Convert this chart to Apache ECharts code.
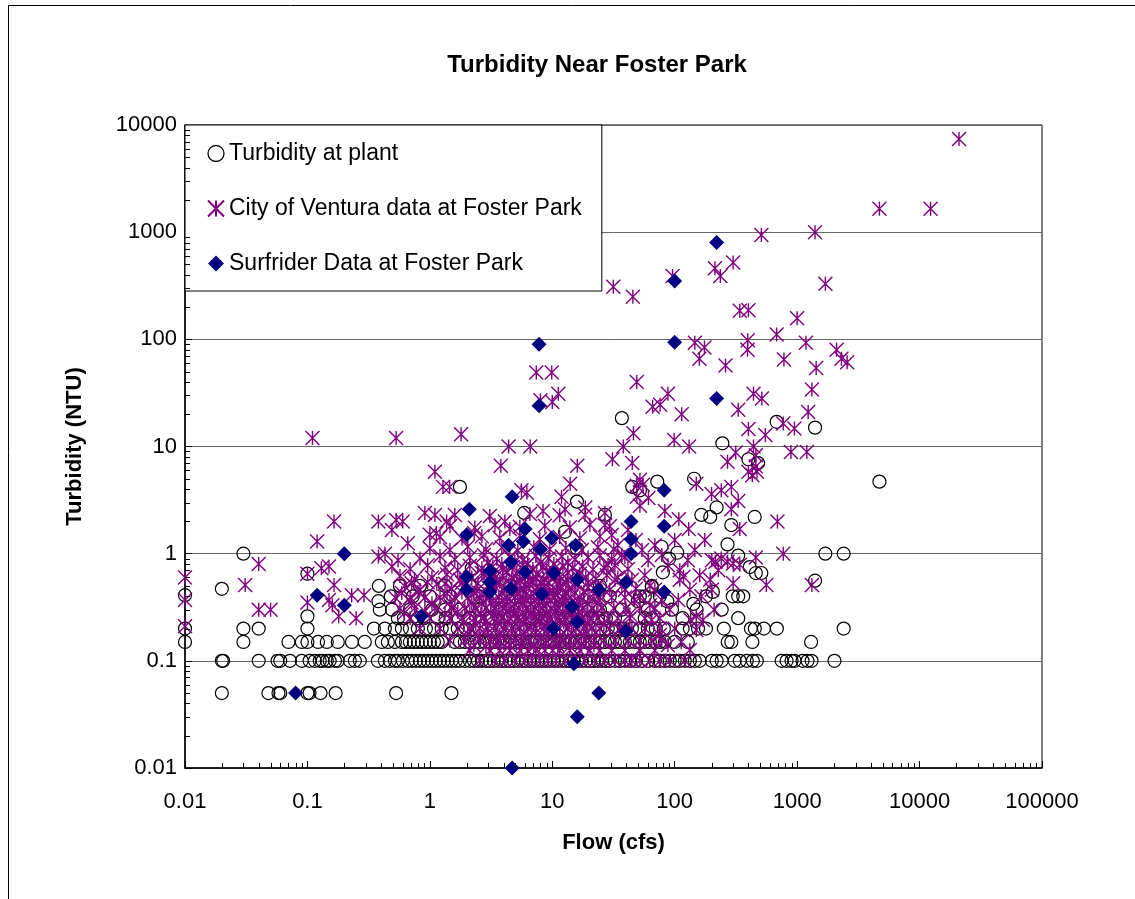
<!DOCTYPE html>
<html>
<head>
<meta charset="utf-8">
<script src="https://cdn.jsdelivr.net/npm/echarts@6/dist/echarts.min.js"></script>
<style>
  html, body { margin: 0; padding: 0; background: #fff; }
  #chart { width: 1135px; height: 899px; }
</style>
</head>
<body>
<div id="chart"></div>
<script>
// Axis tick labels (log decades)
const xTickLabels = ['0.01', '0.1', '1', '10', '100', '1000', '10000', '100000'];
const yTickLabels = ['0.01', '0.1', '1', '10', '100', '1000', '10000'];

// Turbidity at plant: flows (cfs) recorded at each reported turbidity step (NTU)
const plantAt005 = [0.02, 0.048, 0.058, 0.06, 0.1, 0.104, 0.128, 0.17, 0.53, 1.5];
const plantAt01 = [0.02, 0.0205, 0.04, 0.057, 0.06, 0.072, 0.09, 0.104, 0.115, 0.126, 0.133, 0.144, 0.152, 0.168, 0.177,
  0.222, 0.244, 0.268, 0.376, 0.429, 0.471, 0.518, 0.548, 0.602, 0.661, 0.713, 0.769, 0.83, 0.893, 0.963, 1.04, 1.12,
  1.21, 1.3, 1.4, 1.51, 1.63, 1.76, 1.93, 2.12, 2.29, 2.47, 2.66, 2.87, 3.09, 3.33, 3.59, 3.87, 4.17, 4.5, 4.85, 5.23,
  5.64, 6.08, 6.56, 7.07, 7.62, 8.22, 8.86, 9.55, 10.3, 11.1, 12.0, 12.9, 13.9, 15.0, 16.2, 17.4, 18.8, 20.3, 21.9,
  23.6, 25.4, 27.4, 29.5, 32.5, 35.6, 39.2, 43, 48.2, 54.1, 60.7, 68.8, 75.6, 83, 91.2, 100, 110, 121, 133, 146, 160,
  201, 220, 242, 309, 340, 388, 435, 469, 747, 820, 900, 953, 1107, 1216, 1312, 2017];
const plantAt015 = [0.01, 0.03, 0.07, 0.09, 0.1, 0.122, 0.144, 0.177, 0.231, 0.294, 0.405, 0.454, 0.518, 0.591, 0.637,
  0.687, 0.741, 0.798, 0.86, 0.928, 1.0, 1.08, 1.16, 1.25, 1.6, 1.76, 1.93, 2.12, 2.33, 2.56, 2.81, 3.09, 3.4, 3.73,
  4.1, 4.5, 4.95, 5.43, 5.97, 6.56, 7.2, 7.91, 8.69, 9.55, 10.5, 11.5, 12.7, 13.9, 15.3, 16.8, 18.5, 20.3, 22.3, 24.5,
  26.9, 29.5, 32.5, 35.6, 39.2, 43, 47.3, 51.9, 57, 62.7, 68.8, 75.6, 83, 100, 128, 271, 290, 431, 1300];
const plantAt02 = [0.01, 0.03, 0.04, 0.1, 0.349, 0.429, 0.518, 0.591, 0.687, 0.798, 0.928, 1.08, 1.25, 1.46, 1.69, 1.97,
  2.56, 3.73, 5.43, 7.91, 11.5, 16.8, 24.5, 28.4, 33.1, 38.4, 44.7, 51.9, 60.3, 70.1, 81.5, 116, 133, 155, 180, 252,
  419, 451, 535, 683, 2400];
const plantAt025 = [0.548, 0.613, 0.798, 0.893, 1.16, 1.35, 2.12, 3.09, 4.5, 6.56, 8.69, 11.1, 12.7, 14.4, 20.3, 23.6,
  27.4, 32.5, 57, 65, 116, 330];
const plantAt03 = [0.39, 0.49, 0.687, 1.04, 1.33, 1.76, 2.56, 3.73, 5.43, 7.91, 12.0, 18.5, 24.5, 37, 60.3, 95, 151, 242];
const plantAt04 = [0.48, 0.726, 1.0, 1.46, 2.56, 5.43, 11.5, 20.3, 29.5, 51.9, 75.6, 180, 298, 330, 363];
const plantAt05 = [0.383, 0.57, 0.83, 1.33, 2.12, 4.5, 10.5, 24.5, 65];
const plantOther = [[0.01, 0.41], [0.02, 0.47], [0.03, 1.0], [0.1, 0.65], [0.1, 0.26], [0.38, 0.36], [1.76, 4.2],
  [5.9, 2.4], [2.2, 0.73], [37, 18.4], [144, 5.0], [72, 4.7], [45, 4.2], [52, 3.9], [15.9, 3.06], [26.9, 2.3],
  [165, 2.3], [195, 2.2], [220, 2.7], [78, 1.16], [105, 1.02], [90, 0.9], [80, 0.67], [65, 0.49], [57, 0.4],
  [50, 0.36], [87, 0.36], [142, 0.34], [205, 0.44], [15.9, 1.12], [12.7, 1.6], [680, 17], [1400, 15], [245, 10.7],
  [400, 7.6], [480, 7.0], [4700, 4.7], [450, 2.2], [290, 1.85], [270, 1.22], [330, 0.96], [1700, 1.0], [2400, 1.0],
  [410, 0.75], [460, 0.66], [510, 0.66], [1400, 0.56]];

// City of Ventura data: flows at the low, tightly packed turbidity readings
const venturaAt01 = [2.56, 3.4, 4.1, 4.95, 5.97, 6.81, 7.91, 9.19, 10.7, 12.7, 15.3, 18.5, 22.3, 26.9, 32.5, 39.2,
  44.7, 51.9, 62.7, 75.6, 91.2, 121];
const venturaAt0125 = [2.12, 3.09, 3.73, 4.5, 5.43, 6.31, 7.34, 8.69, 10.1, 11.5, 13.9, 16.8, 20.3, 24.5, 30.6, 39.2,
  51.9, 68.8];
const venturaAt015 = [1.46, 1.93, 2.56, 3.09, 3.59, 4.17, 4.85, 5.64, 6.56, 7.62, 8.86, 10.3, 12.0, 13.9, 16.2, 18.8,
  21.9, 26.4, 32.5, 41.5, 51.9, 65, 78.5];
const venturaAt02 = [0.83, 1.21, 1.69, 2.12, 2.56, 2.97, 3.46, 4.02, 4.67, 5.43, 6.31, 7.34, 8.53, 9.91, 11.5, 13.4,
  15.6, 18.1, 21.1, 24.5, 29.5, 35.6, 44.7, 57, 75.6, 100];
const venturaAt025 = [0.69, 1.0, 1.46, 1.83, 2.29, 2.76, 3.33, 3.87, 4.5, 5.23, 6.08, 7.07, 8.22, 9.55, 11.1, 12.9,
  15.0, 17.4, 20.3, 23.6, 28.5, 34.3, 43, 57, 75.6];
const venturaAt03 = [0.57, 0.75, 1.1, 1.51, 1.93, 2.37, 2.87, 3.4, 3.95, 4.59, 5.33, 6.2, 7.2, 8.37, 9.73, 11.3, 13.1,
  15.3, 17.7, 21.1, 25.4, 31.8, 39.9, 51.9, 68.8];
const venturaAt04 = [0.52, 0.69, 0.91, 1.21, 1.6, 2.04, 2.56, 3.09, 3.66, 4.25, 4.95, 5.75, 6.68, 7.77, 9.02, 10.5,
  12.2, 14.2, 16.8, 20.3, 24.5, 30.6, 39.2, 51.9];
// City of Ventura data: the densest low-flow readings between those steps [flow, turbidity]
const venturaCore = [
  [2.29, 0.14], [2.87, 0.135], [3.59, 0.145], [4.5, 0.138], [5.64, 0.142], [7.07, 0.136], [8.86, 0.144], [11.1, 0.14],
  [13.9, 0.137], [17.4, 0.143], [21.9, 0.14],
  [2.04, 0.178], [2.47, 0.172], [2.97, 0.182], [3.73, 0.176], [4.67, 0.18], [5.86, 0.174], [7.34, 0.183], [9.19, 0.177],
  [11.5, 0.171], [14.4, 0.18], [18.1, 0.175], [22.7, 0.182],
  [1.89, 0.226], [2.37, 0.22], [2.87, 0.23], [3.59, 0.224], [4.34, 0.232], [5.04, 0.222], [5.86, 0.228], [6.81, 0.221],
  [7.91, 0.23], [9.19, 0.225], [10.7, 0.219], [12.4, 0.229], [14.4, 0.223], [16.8, 0.231], [19.5, 0.226], [26.4, 0.22],
  [2.12, 0.28], [2.61, 0.275], [3.15, 0.285], [3.66, 0.278], [4.25, 0.29], [4.95, 0.272], [5.75, 0.283], [6.68, 0.277],
  [7.77, 0.288], [9.02, 0.274], [10.5, 0.281], [12.2, 0.286], [14.2, 0.276], [16.5, 0.284], [19.2, 0.279], [23.1, 0.282],
  [2.2, 0.346], [2.66, 0.34], [3.15, 0.352], [3.66, 0.343], [4.25, 0.355], [4.95, 0.338], [5.75, 0.35], [6.68, 0.342],
  [7.77, 0.356], [9.02, 0.345], [10.5, 0.339], [12.2, 0.351], [14.2, 0.344], [16.5, 0.353], [19.5, 0.341], [23.6, 0.348],
  [2.29, 0.43], [2.76, 0.42], [3.27, 0.44], [3.87, 0.425], [4.5, 0.435], [5.23, 0.418], [6.08, 0.442], [7.07, 0.428],
  [8.22, 0.436], [9.55, 0.421], [11.1, 0.438], [12.9, 0.426], [15.3, 0.433], [18.1, 0.44], [21.9, 0.424],
  [2.47, 0.53], [3.09, 0.52], [3.73, 0.545], [4.42, 0.525], [5.13, 0.538], [5.97, 0.518], [6.94, 0.542], [8.06, 0.527],
  [9.37, 0.535], [10.9, 0.522], [12.9, 0.54], [15.6, 0.528], [19.6, 0.535],
  [2.66, 0.66], [3.4, 0.64], [4.25, 0.68], [5.13, 0.65], [6.2, 0.67], [7.48, 0.645], [9.02, 0.675], [10.9, 0.655],
  [13.4, 0.665], [16.8, 0.648],
  [2.97, 0.82], [3.87, 0.8], [4.95, 0.84], [6.31, 0.81], [8.06, 0.83], [10.3, 0.8], [13.4, 0.825],
  [0.62, 0.28], [0.91, 0.29], [1.33, 0.275], [1.69, 0.285], [0.71, 0.35], [1.04, 0.345], [1.46, 0.355],
  [0.59, 0.43], [0.8, 0.44], [1.38, 0.425], [1.83, 0.435], [0.71, 0.53], [0.96, 0.54], [1.33, 0.525], [1.83, 0.535]
];
// City of Ventura data: remaining [flow, turbidity] readings
const venturaOther = [
  [0.62, 0.5], [0.83, 0.46], [1.14, 0.52], [1.51, 0.47], [1.93, 0.5], [2.42, 0.45], [2.97, 0.49], [3.52, 0.53],
  [4.1, 0.47], [4.76, 0.5], [5.54, 0.46], [6.43, 0.52], [7.48, 0.48], [8.69, 0.5], [10.1, 0.45], [11.7, 0.5],
  [13.6, 0.47], [16.2, 0.52], [19.6, 0.48], [23.6, 0.5], [29.5, 0.46], [37, 0.5], [48.2, 0.47], [62.7, 0.5],
  [0.57, 0.62], [0.75, 0.58], [1.04, 0.6], [1.38, 0.64], [1.76, 0.57], [2.2, 0.6], [2.76, 0.65], [3.33, 0.58],
  [3.95, 0.62], [4.67, 0.6], [5.43, 0.56], [6.31, 0.63], [7.34, 0.6], [8.53, 0.58], [9.91, 0.64], [11.5, 0.6],
  [13.4, 0.57], [15.9, 0.62], [18.8, 0.6], [22.7, 0.58], [27.9, 0.63], [34.3, 0.6], [44.7, 0.57],
  [0.69, 0.72], [0.96, 0.78], [1.33, 0.74], [1.69, 0.7], [2.12, 0.77], [2.66, 0.73], [3.27, 0.76], [3.95, 0.71],
  [4.76, 0.75], [5.75, 0.78], [6.94, 0.72], [8.37, 0.75], [10.1, 0.7], [12.2, 0.77], [14.7, 0.73], [17.7, 0.76],
  [21.5, 0.71], [26.4, 0.74], [32.5, 0.78], [41.5, 0.72],
  [0.83, 0.9], [1.21, 0.95], [1.6, 0.88], [2.12, 0.92], [2.76, 0.97], [3.52, 0.89], [4.5, 0.93], [5.75, 0.87],
  [7.34, 0.95], [9.37, 0.9], [12.0, 0.94], [15.3, 0.88], [19.6, 0.92], [24.5, 0.96], [30.6, 0.89], [39.2, 0.93],
  [1.0, 1.12], [1.46, 1.08], [2.04, 1.16], [2.87, 1.1], [3.87, 1.14], [5.23, 1.07], [7.07, 1.15], [9.55, 1.1],
  [12.9, 1.13], [17.4, 1.08], [23.6, 1.15], [31.8, 1.1],
  [1.21, 1.43], [1.83, 1.38], [2.66, 1.45], [3.73, 1.4], [5.43, 1.47], [7.91, 1.36], [11.5, 1.43], [16.8, 1.39], [24.5, 1.45],
  [1.46, 1.8], [2.33, 1.75], [3.4, 1.85], [5.43, 1.78], [8.69, 1.82], [13.9, 1.76], [20.3, 1.86], [29.5, 1.8],
  [1.6, 2.3], [3.09, 2.25], [6.56, 2.35], [11.5, 2.28], [18.5, 2.3], [26.9, 2.4],
  [26.9, 1.85], [30.6, 1.49], [34.3, 1.2], [37, 0.97], [41.5, 1.66], [48.2, 1.34], [54.1, 1.08], [60.7, 0.87],
  [68.8, 1.2], [78.5, 0.97], [88, 0.78], [100, 1.34], [110, 0.7], [128, 0.87], [146, 1.08], [160, 0.63], [176, 1.34],
  [201, 0.46], [227, 0.7], [28.5, 0.78], [32.5, 0.57], [39.2, 0.46], [47, 0.37], [57, 0.63], [68.8, 0.46],
  [78.5, 0.37], [91.2, 0.3], [107, 0.37], [133, 0.46], [150, 0.194], [170, 0.24], [65, 0.24], [75.6, 0.174],
  [88, 0.14], [51.9, 0.126], [133, 0.126], [201, 0.87], [43, 0.27], [35.6, 0.194], [62.7, 0.33],
  [21000, 7400], [4700, 1650], [12300, 1650], [510, 940], [1400, 1000], [1700, 330], [300, 520], [213, 460],
  [236, 390], [96, 390], [31.5, 310], [45.5, 250], [340, 185], [400, 187], [1000, 157], [680, 111], [395, 98],
  [393, 80], [1180, 93], [146, 93], [175, 84], [159, 66], [2100, 80], [2300, 66], [2560, 61], [780, 65], [260, 57],
  [1430, 54], [1320, 34], [440, 31], [515, 28], [330, 22], [1230, 21], [400, 14.6], [550, 12.8], [770, 16.4],
  [950, 14.7], [440, 10], [460, 8.3], [315, 8.8], [270, 7.2], [890, 8.9], [1200, 8.9], [400, 5.8], [430, 5.4],
  [470, 5.8], [460, 6.5], [240, 3.9], [290, 4.2], [330, 3.1], [290, 2.6], [690, 2.0], [340, 1.7], [770, 1.0],
  [240, 0.9], [270, 0.84], [300, 0.81], [340, 0.79], [215, 0.84], [460, 0.92], [300, 0.53], [560, 0.51], [1320, 0.51],
  [7.4, 49], [9.9, 49], [8.0, 27], [10, 26], [11.2, 31], [49, 40], [88, 31], [66, 23.5], [76, 24.5], [114, 20],
  [0.53, 12], [1.8, 13], [4.4, 10], [6.6, 10], [46, 13.3], [38, 10], [99, 11.5], [131, 10], [0.11, 12],
  [0.01, 0.6], [0.01, 0.37], [0.01, 0.21], [0.04, 0.8], [0.031, 0.51], [0.04, 0.3], [0.05, 0.3], [0.12, 1.3],
  [0.165, 2.0], [0.1, 0.65], [0.15, 0.76], [0.13, 0.73], [0.165, 0.51], [0.1, 0.35], [0.15, 0.37], [0.16, 0.33],
  [0.18, 0.26], [0.25, 0.25], [0.23, 0.41], [0.29, 0.41], [0.38, 2.0], [0.49, 1.66], [0.53, 2.06], [0.38, 0.94],
  [0.43, 1.0], [0.49, 0.76], [0.55, 0.87],
  [3.8, 6.6], [1.1, 5.8], [1.28, 4.2], [1.45, 4.2], [5.6, 3.9], [6.2, 3.7], [0.6, 2.0], [0.91, 2.4], [1.1, 2.3],
  [1.37, 2.0], [0.66, 1.25], [1.0, 1.5], [1.13, 1.55], [2.3, 1.55], [4.1, 2.0], [4.5, 1.7], [8.4, 2.5], [11.9, 3.4],
  [31, 7.6], [45, 7.0], [16, 6.6], [14, 4.5], [52, 4.9], [55, 4.4], [49, 4.3], [61, 3.3], [83, 2.5], [108, 2.1],
  [130, 1.7], [150, 4.5], [200, 3.6], [12.7, 2.6], [18.6, 2.7], [49, 3.4], [52, 2.8], [118, 0.61], [110, 0.57],
  [195, 0.57], [165, 0.4], [210, 0.3], [150, 0.26], [135, 0.24], [113, 0.15]
];

// Surfrider data at Foster Park: [flow, turbidity]
const surfrider = [[220, 800], [100, 350], [100, 94], [220, 28], [7.8, 90], [7.8, 24], [4.7, 3.4], [2.1, 2.6],
  [2.0, 1.5], [0.2, 1.0], [0.12, 0.41], [0.2, 0.33], [0.08, 0.05], [4.7, 0.01], [16, 0.03], [24, 0.05], [15, 0.094],
  [82, 3.9], [82, 1.8], [44, 2.0], [44, 1.36], [44, 1.0], [40, 0.54], [82, 0.44], [40, 0.19], [6.0, 1.7], [5.8, 1.3],
  [4.4, 1.2], [8.0, 1.1], [9.9, 1.4], [4.6, 0.83], [6.0, 0.67], [10.3, 0.66], [3.1, 0.69], [2.0, 0.61], [3.1, 0.54],
  [4.6, 0.47], [8.2, 0.42], [3.1, 0.44], [2.0, 0.46], [0.85, 0.26], [10.2, 0.2], [15.5, 1.2], [16, 0.57], [24, 0.46],
  [14.5, 0.32], [16, 0.23]];

const SERIES_NAMES = ['Turbidity at plant', 'City of Ventura data at Foster Park', 'Surfrider Data at Foster Park'];
const FONT = '"Liberation Sans", Arial, sans-serif';
const ASTERISK = 'path://M0,0L10,10M0,10L10,0M5,0L5,10';

function atLevel(ntu, flows) { return flows.map(f => [f, ntu]); }

const plantData = [].concat(
  atLevel(0.05, plantAt005), atLevel(0.1, plantAt01), atLevel(0.15, plantAt015), atLevel(0.2, plantAt02),
  atLevel(0.25, plantAt025), atLevel(0.3, plantAt03), atLevel(0.4, plantAt04), atLevel(0.5, plantAt05), plantOther);
const venturaData = [].concat(
  atLevel(0.1, venturaAt01), atLevel(0.125, venturaAt0125), atLevel(0.155, venturaAt015), atLevel(0.2, venturaAt02),
  atLevel(0.25, venturaAt025), atLevel(0.31, venturaAt03), atLevel(0.39, venturaAt04), venturaCore, venturaOther);

// log-axis minor tick positions (2..9 within every decade)
const minorSteps = [2, 3, 4, 5, 6, 7, 8, 9];
function minorTickValues(fromExp, toExp) {
  const out = [];
  for (let e = fromExp; e < toExp; e++) for (const k of minorSteps) out.push(k * Math.pow(10, e));
  return out;
}
function decadeLabel(labels, minExp) {
  return v => labels[Math.round(Math.log10(v)) - minExp] || '';
}

const chart = echarts.init(document.getElementById('chart'), null, { renderer: 'canvas' });

chart.setOption({
  backgroundColor: '#fff',
  animation: false,
  textStyle: { fontFamily: FONT },
  graphic: [
    { type: 'rect', shape: { x: 8.5, y: 5.5, width: 1200, height: 1000 },
      style: { fill: 'none', stroke: '#000', lineWidth: 1 }, z: -10, silent: true },
    { type: 'text', x: 597, y: 65,
      style: { text: 'Turbidity Near Foster Park', fontFamily: FONT, fontSize: 24, fontWeight: 'bold',
               fill: '#000', align: 'center', verticalAlign: 'middle' }, silent: true }
  ],
  grid: { left: 185, top: 125, right: 93, bottom: 131, show: true, borderColor: '#000', borderWidth: 1,
          backgroundColor: 'transparent', containLabel: false },
  legend: {
    orient: 'vertical', left: 185, top: 125,
    padding: [17, 20, 16, 22], itemGap: 32, itemWidth: 16, itemHeight: 16,
    backgroundColor: '#fff', borderColor: '#000', borderWidth: 1, borderRadius: 0,
    textStyle: { fontFamily: FONT, fontSize: 23, color: '#000' },
    selectedMode: false,
    data: [
      { name: SERIES_NAMES[0], icon: 'circle', itemStyle: { borderWidth: 1.3 } },
      { name: SERIES_NAMES[1], icon: ASTERISK },
      { name: SERIES_NAMES[2], icon: 'diamond' }
    ]
  },
  xAxis: {
    type: 'log', logBase: 10, min: 0.01, max: 100000, splitNumber: 7,
    axisLine: { show: true, onZero: false, lineStyle: { color: '#000', width: 1.5 } },
    axisTick: { show: true, inside: true, length: 7, lineStyle: { color: '#000', width: 1 } },
    axisLabel: { formatter: decadeLabel(xTickLabels, -2), fontFamily: FONT, fontSize: 22, color: '#000', margin: 23,
                 showMinLabel: true, showMaxLabel: true },
    splitLine: { show: false },
    name: 'Flow (cfs)', nameLocation: 'middle', nameGap: 64,
    nameTextStyle: { fontFamily: FONT, fontSize: 22, fontWeight: 'bold', color: '#000' }
  },
  yAxis: {
    type: 'log', logBase: 10, min: 0.01, max: 10000, splitNumber: 6,
    axisLine: { show: true, onZero: false, lineStyle: { color: '#000', width: 1.5 } },
    axisTick: { show: true, inside: true, length: 7, lineStyle: { color: '#000', width: 1 } },
    axisLabel: { formatter: decadeLabel(yTickLabels, -2), fontFamily: FONT, fontSize: 22, color: '#000', margin: 8,
                 showMinLabel: true, showMaxLabel: true },
    splitLine: { show: true, lineStyle: { color: '#666', width: 1 } },
    name: 'Turbidity (NTU)', nameLocation: 'middle', nameGap: 99, nameRotate: 90,
    nameTextStyle: { fontFamily: FONT, fontSize: 22, fontWeight: 'bold', color: '#000' }
  },
  series: [
    {
      name: SERIES_NAMES[0], type: 'scatter', data: plantData, symbol: 'circle', symbolSize: 13,
      itemStyle: { color: 'rgba(0,0,0,0)', borderColor: '#000', borderWidth: 1.2, opacity: 1 },
      emphasis: { disabled: true }, z: 3
    },
    {
      name: SERIES_NAMES[1], type: 'scatter', data: venturaData, symbol: ASTERISK, symbolSize: 14,
      itemStyle: { color: 'rgba(0,0,0,0)', borderColor: '#800080', borderWidth: 1.4, opacity: 1 },
      emphasis: { disabled: true }, z: 4
    },
    {
      name: SERIES_NAMES[2], type: 'scatter', data: surfrider, symbol: 'diamond', symbolSize: 15,
      itemStyle: { color: '#000080', opacity: 1 },
      emphasis: { disabled: true }, z: 5
    },
    {
      // minor ticks on both log axes
      type: 'custom', silent: true, z: 6, data: [[1, 1]],
      renderItem: function (params, api) {
        const children = [];
        for (const v of minorTickValues(-2, 5)) {
          const p = api.coord([v, 0.01]);
          const x = Math.round(p[0]) + 0.5;
          children.push({ type: 'line', shape: { x1: x, y1: p[1], x2: x, y2: p[1] - 5 },
                          style: { stroke: '#000', lineWidth: 1 } });
        }
        for (const v of minorTickValues(-2, 4)) {
          const p = api.coord([0.01, v]);
          const y = Math.round(p[1]) + 0.5;
          children.push({ type: 'line', shape: { x1: p[0], y1: y, x2: p[0] + 5, y2: y },
                          style: { stroke: '#000', lineWidth: 1 } });
        }
        return { type: 'group', children: children };
      }
    }
  ]
});
</script>
</body>
</html>
